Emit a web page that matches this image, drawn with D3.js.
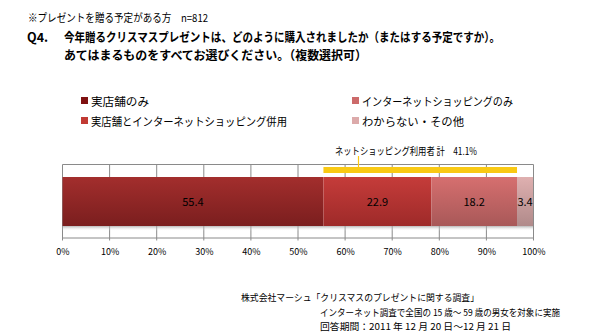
<!DOCTYPE html>
<html>
<head>
<meta charset="utf-8">
<script src="https://cdn.jsdelivr.net/npm/d3@7"></script>
<style>
  html, body { margin: 0; padding: 0; background: #fff; }
  svg { display: block; }
  text { font-family: "Noto Sans CJK JP", "Noto Sans", sans-serif; fill: #000; }
</style>
</head>
<body>
<svg id="chart" width="599" height="336"></svg>
<script>
// Survey answers (percent of respondents, n=812)
const categories = [
  "実店舗のみ",
  "実店舗とインターネットショッピング併用",
  "インターネットショッピングのみ",
  "わからない・その他"
];
const values = [55.4, 22.9, 18.2, 3.4];
const tickValues = [0, 10, 20, 30, 40, 50, 60, 70, 80, 90, 100];
const tickLabels = ["0%", "10%", "20%", "30%", "40%", "50%", "60%", "70%", "80%", "90%", "100%"];
const netUsersTotal = 41.1;
const netUsersLabel = "ネットショッピング利用者 計　41.1%";

const titleLines = [
  "※プレゼントを贈る予定がある方　n=812",
  "今年贈るクリスマスプレゼントは、どのように購入されましたか（またはする予定ですか）。",
  "あてはまるものをすべてお選びください。（複数選択可）"
];
const questionNo = "Q4.";
const sourceLines = [
  "株式会社マーシュ「クリスマスのプレゼントに関する調査」",
  "インターネット調査で全国の 15 歳～ 59 歳の男女を対象に実施",
  "回答期間：2011 年 12 月 20 日～12 月 21 日"
];

// Segment fills: top / bottom of the vertical gradient, plus legend swatch colour
const segTop    = ["#a32e2d", "#c53c3a", "#d66f6f", "#dfb0b0"];
const segBottom = ["#7a1e1e", "#9e2a29", "#a85858", "#b08a8a"];
const swatch    = ["#7f1111", "#c13a34", "#cc6a6a", "#dcaaaa"];

const svg = d3.select("#chart");
const defs = svg.append("defs");

// ---- heading ----
svg.append("text").attr("x", 28).attr("y", 22)
  .attr("font-size", 11).attr("textLength", 180).attr("lengthAdjust", "spacingAndGlyphs")
  .text(titleLines[0]);
svg.append("text").attr("x", 27).attr("y", 42)
  .attr("font-size", 12.5).attr("font-weight", "bold")
  .text(questionNo);
svg.append("text").attr("x", 64).attr("y", 42)
  .attr("font-size", 12.5).attr("font-weight", "bold")
  .attr("textLength", 436).attr("lengthAdjust", "spacingAndGlyphs")
  .text(titleLines[1]);
svg.append("text").attr("x", 64).attr("y", 60)
  .attr("font-size", 12.5).attr("font-weight", "bold")
  .attr("textLength", 303).attr("lengthAdjust", "spacingAndGlyphs")
  .text(titleLines[2]);

// ---- legend (two columns, two rows) ----
const legendPos = [[81, 101], [81, 121], [352, 101], [352, 121]];
const legendW = [58, 196, 151, 102];
const legend = svg.append("g");
categories.forEach((c, i) => {
  const [lx, ly] = legendPos[i];
  legend.append("rect").attr("x", lx).attr("y", ly - 4).attr("width", 7).attr("height", 7)
    .attr("fill", swatch[i]);
  legend.append("text").attr("x", lx + 10).attr("y", ly + 4.5)
    .attr("font-size", 11.5).attr("textLength", legendW[i]).attr("lengthAdjust", "spacingAndGlyphs")
    .text(c);
});

// ---- plot ----
const x = d3.scaleLinear().domain([0, 100]).range([62.5, 533.5]);
const frameTop = 164.5, frameBottom = 237.5;
const barTop = 177, barH = 49;
const gridColor = "#8a8a8a";

const grid = svg.append("g");
grid.append("line").attr("x1", x(0)).attr("x2", x(100)).attr("y1", frameTop).attr("y2", frameTop)
  .attr("stroke", gridColor);
grid.selectAll("line.v").data(tickValues).join("line").attr("class", "v")
  .attr("x1", d => x(d)).attr("x2", d => x(d))
  .attr("y1", frameTop).attr("y2", frameBottom + 3)
  .attr("stroke", gridColor);

// axis line and labels via d3.axisBottom
const axis = d3.axisBottom(x).tickValues(tickValues)
  .tickFormat((d, i) => tickLabels[i]).tickSize(0).tickPadding(11);
const axisG = svg.append("g").attr("transform", `translate(0,${frameBottom})`).call(axis);
axisG.select(".domain").attr("stroke", gridColor);
axisG.selectAll("text").attr("font-size", 9).attr("fill", "#333")
  .attr("font-family", "'DejaVu Sans', sans-serif");

// stacked segments
const starts = d3.cumsum([0, ...values.slice(0, -1)]);
values.forEach((v, i) => {
  const g = defs.append("linearGradient").attr("id", "seg" + i)
    .attr("x1", 0).attr("y1", 0).attr("x2", 0).attr("y2", 1);
  g.append("stop").attr("offset", "0%").attr("stop-color", segTop[i]);
  g.append("stop").attr("offset", "100%").attr("stop-color", segBottom[i]);
});

// soft shadow under the bar
const sh = defs.append("linearGradient").attr("id", "shadow")
  .attr("x1", 0).attr("y1", 0).attr("x2", 0).attr("y2", 1);
sh.append("stop").attr("offset", "0%").attr("stop-color", "#9a9a9a").attr("stop-opacity", 0.7);
sh.append("stop").attr("offset", "100%").attr("stop-color", "#ffffff").attr("stop-opacity", 0);
svg.append("rect").attr("x", x(0)).attr("y", barTop + barH)
  .attr("width", x(d3.sum(values)) - x(0)).attr("height", 5).attr("fill", "url(#shadow)");

const bars = svg.append("g");
bars.selectAll("rect").data(values).join("rect")
  .attr("x", (d, i) => x(starts[i]))
  .attr("y", barTop)
  .attr("width", (d, i) => x(starts[i] + d) - x(starts[i]))
  .attr("height", barH)
  .attr("fill", (d, i) => `url(#seg${i})`);

bars.selectAll("text").data(values).join("text")
  .attr("x", (d, i) => (x(starts[i]) + x(starts[i] + d)) / 2)
  .attr("y", barTop + barH / 2 + 4)
  .attr("text-anchor", "middle")
  .attr("font-size", 11).attr("fill", "#1a1a1a")
  .attr("font-family", "'DejaVu Sans', sans-serif")
  .text(d => d.toFixed(1));

// bracket marking all shoppers who used the internet
const netStart = values[0];
const bracket = svg.append("g");
bracket.append("rect").attr("x", x(netStart)).attr("y", 167)
  .attr("width", x(netStart + netUsersTotal) - x(netStart)).attr("height", 6)
  .attr("fill", "#f9c914");
bracket.append("line").attr("x1", 358.5).attr("x2", 358.5).attr("y1", 156).attr("y2", 167)
  .attr("stroke", "#f9c914").attr("stroke-width", 1.2);
bracket.append("text").attr("x", 335).attr("y", 155)
  .attr("font-size", 10).attr("textLength", 142).attr("lengthAdjust", "spacingAndGlyphs")
  .text(netUsersLabel);

// ---- source notes ----
const srcPos = [[241, 301, 238], [320, 316, 240], [320, 330, 191]];
sourceLines.forEach((s, i) => {
  svg.append("text").attr("x", srcPos[i][0]).attr("y", srcPos[i][1])
    .attr("font-size", 9.5).attr("textLength", srcPos[i][2]).attr("lengthAdjust", "spacingAndGlyphs")
    .text(s);
});
</script>
</body>
</html>
